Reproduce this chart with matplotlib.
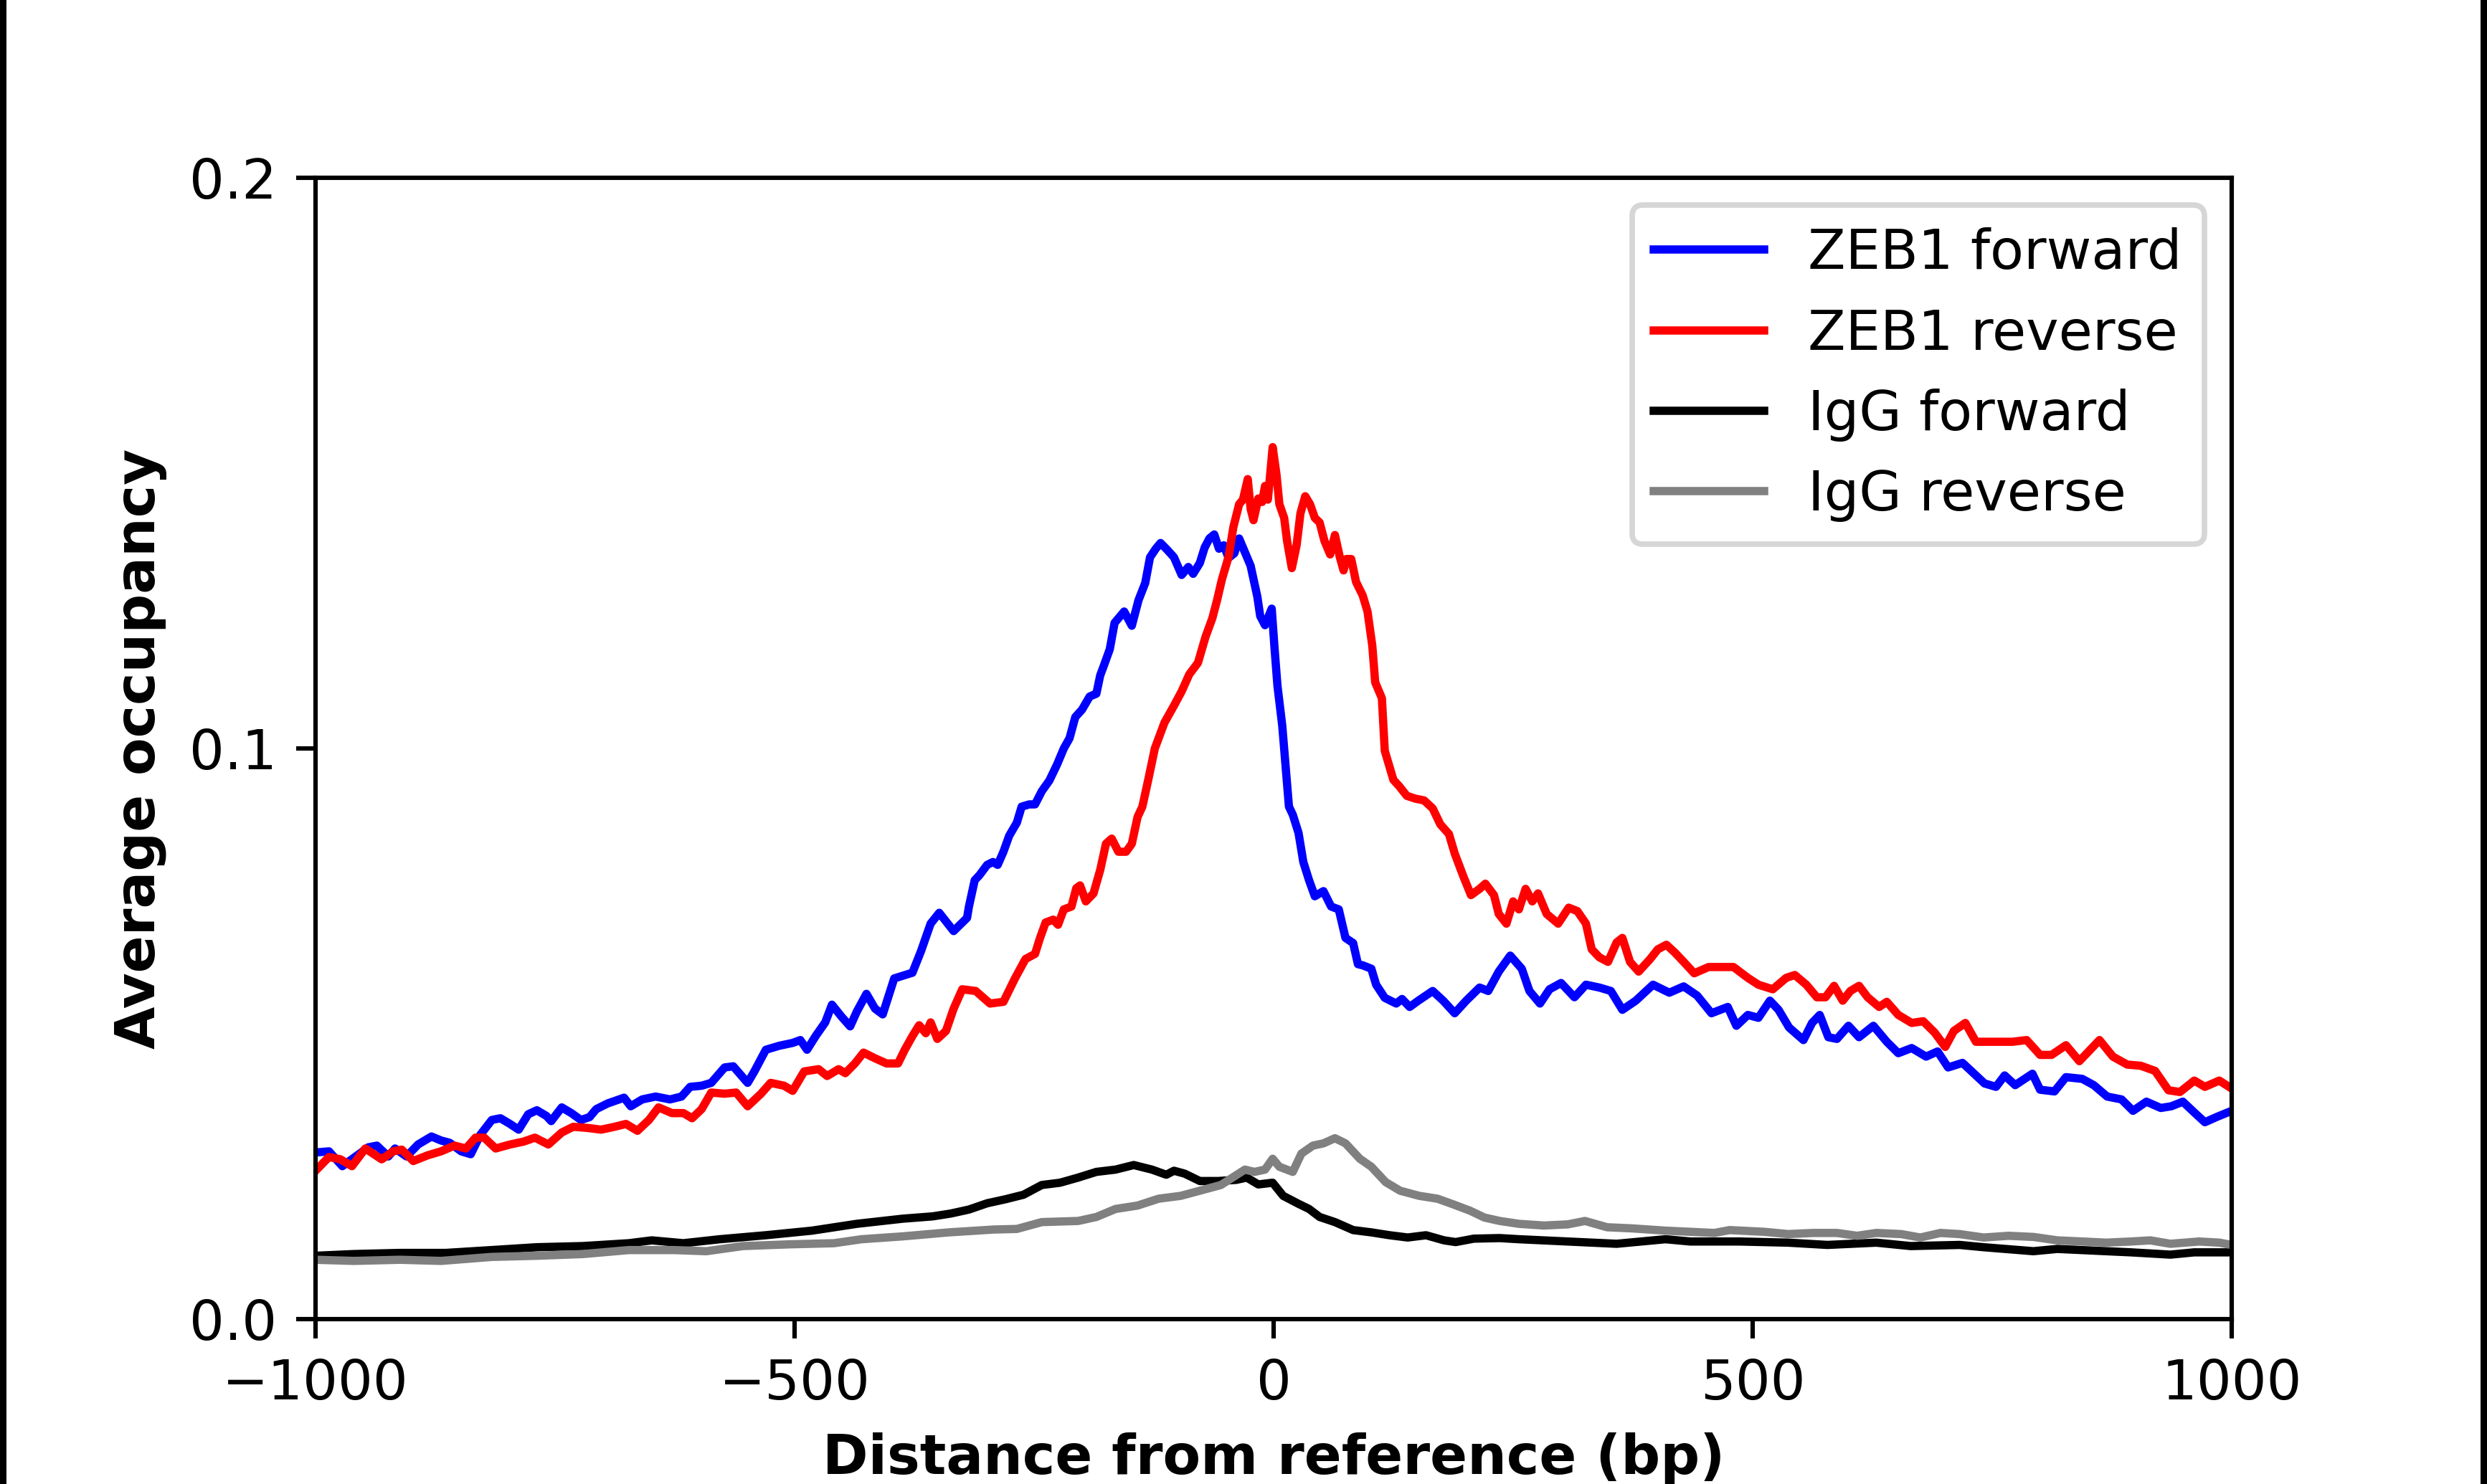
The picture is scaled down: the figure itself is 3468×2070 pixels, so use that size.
import matplotlib
matplotlib.use("Agg")
import matplotlib.pyplot as plt
from matplotlib.patches import Rectangle

# ---------------- data ----------------
zeb1_fwd_x = [-1000, -986, -972, -945, -936, -924, -917, -905, -893, -879, -869, -860, -848, -838, -828, -816,
              -807, -797, -788, -778, -769, -759, -754, -743, -733, -723, -714, -707, -695, -678, -671, -659,
              -645, -630, -618, -609, -597, -587, -573, -564, -549, -542, -530, -516, -502, -494, -487, -478,
              -468, -461, -451, -442, -435, -425, -416, -408, -396, -377, -368, -358, -349, -334, -320,
              -318, -312, -307, -299, -293, -288, -282, -276, -268, -263, -255, -249, -242, -234, -226, -219,
              -213, -207, -200, -192, -185, -181, -177, -171,
              -166, -156, -148, -141, -134, -129, -123, -118, -111, -104, -96, -89, -84, -77, -72, -67, -62,
              -57, -52, -47, -41, -36, -29, -24, -17, -14, -9, -2, 1, 4, 9,
              16, 20, 26, 31, 37, 43, 52, 60, 68, 75, 83, 88,
              93, 102, 107, 116, 128, 134, 142, 151, 166, 177, 189, 201, 215, 224, 235, 247, 259, 267, 278,
              288, 300, 314, 326, 340, 352, 364, 378, 396, 413, 428, 442, 457, 474, 483, 495, 506, 518, 527,
              538, 553, 562, 570, 579, 588, 600, 611, 626, 640, 652, 666, 681, 693, 704, 719, 728, 742, 754,
              763, 774, 792, 800, 815, 827, 844, 856, 870, 885, 897, 911, 926, 937, 949, 961, 972, 984, 1000]
zeb1_fwd_y = [0.0292, 0.0294, 0.0268, 0.0301, 0.0304, 0.0285, 0.0299, 0.0285, 0.0306, 0.0320, 0.0313, 0.0309,
              0.0294, 0.0289, 0.0323, 0.0349, 0.0352, 0.0342, 0.0332, 0.0359, 0.0366, 0.0356, 0.0347, 0.0371,
              0.0361, 0.0349, 0.0354, 0.0368, 0.0378, 0.0388, 0.0373, 0.0385, 0.0390, 0.0385, 0.0390, 0.0407,
              0.0409, 0.0414, 0.0441, 0.0443, 0.0414, 0.0434, 0.0472, 0.0479, 0.0484, 0.0489, 0.0472, 0.0496,
              0.0520, 0.0551, 0.0530, 0.0513, 0.0539, 0.0570, 0.0544, 0.0534, 0.0597, 0.0607, 0.0645, 0.0693,
              0.0712, 0.0680, 0.0703,
              0.0723, 0.0769, 0.0778, 0.0796, 0.0801, 0.0796, 0.0819, 0.0847, 0.0870, 0.0898, 0.0902, 0.0902,
              0.0925, 0.0944, 0.0972, 0.1000, 0.1018, 0.1055, 0.1068, 0.1091, 0.1096, 0.1128, 0.1146, 0.1174,
              0.1220, 0.1240, 0.1215, 0.1260, 0.1290, 0.1335, 0.1350, 0.1360, 0.1348, 0.1335, 0.1304, 0.1318,
              0.1306, 0.1325, 0.1352, 0.1368, 0.1375, 0.1350, 0.1356, 0.1334, 0.1342, 0.1368, 0.1340, 0.1320,
              0.1266, 0.1232, 0.1216, 0.1245, 0.1175, 0.1110, 0.1040,
              0.0898, 0.0884, 0.0852, 0.0801, 0.0769, 0.0741, 0.0750, 0.0723, 0.0718, 0.0668, 0.0659, 0.0622,
              0.0620, 0.0614, 0.0586, 0.0563, 0.0553, 0.0561, 0.0547, 0.0558, 0.0575, 0.0558, 0.0536, 0.0558,
              0.0581, 0.0575, 0.0609, 0.0637, 0.0614, 0.0575, 0.0553, 0.0578, 0.0589, 0.0564, 0.0586, 0.0581,
              0.0575, 0.0542, 0.0558, 0.0586, 0.0572, 0.0583, 0.0567, 0.0536, 0.0547, 0.0514, 0.0533, 0.0528,
              0.0558, 0.0542, 0.0511, 0.0489, 0.0519, 0.0533, 0.0494, 0.0491, 0.0514, 0.0494, 0.0514, 0.0486,
              0.0466, 0.0475, 0.0460, 0.0469, 0.0441, 0.0449, 0.0435, 0.0413, 0.0407, 0.0427, 0.0410, 0.0430,
              0.0402, 0.0399, 0.0424, 0.0421, 0.0410, 0.0390, 0.0385, 0.0365, 0.0381, 0.0370, 0.0373, 0.0381,
              0.0362, 0.0345, 0.0354, 0.0365]

zeb1_rev_x = [-1000, -986, -974, -962, -948, -931, -919, -910, -898, -883, -869, -855, -843, -833, -824, -812,
              -797, -783, -771, -757, -743, -731, -716, -702, -688, -676, -664, -652, -642, -628, -616, -607,
              -597, -587, -573, -561, -549, -535, -525, -511, -502, -490, -475, -466, -454, -447, -437, -428,
              -416, -404, -392, -385, -377, -370, -363, -358, -351, -342, -334, -325, -311, -296, -282, -270,
              -259,
              -249, -244, -238, -230, -225, -219, -211, -206, -202, -196, -188, -181, -175, -169, -162, -154,
              -148, -142, -137, -131,
              -124, -114, -104, -96, -88, -79, -71, -64, -59, -54, -47, -42, -36, -32, -27, -24, -21, -16,
              -12, -9, -6, -1, 3, 6, 11, 14, 19, 24, 28, 33, 38, 43, 48, 53, 59, 64, 69, 73, 76, 81, 86, 93,
              98, 103, 106, 113,
              116, 125, 131, 139, 148, 157, 166, 174, 183, 189, 198, 206, 215, 221, 230, 235, 243, 250, 256,
              263, 270, 276, 285, 297, 308, 317, 326, 332, 340, 349, 358, 364, 372, 381, 393, 401, 410, 419,
              428, 439, 454, 468, 480, 495, 506, 521, 535, 544, 556, 567, 576, 585, 594, 602, 611, 620, 632,
              640, 652, 666, 678, 690, 701, 710, 722, 733, 748, 757, 771, 786, 800, 812, 827, 841, 862, 876,
              891, 905, 920, 934, 946, 961, 972, 987, 1000]
zeb1_rev_y = [0.0260, 0.0284, 0.0280, 0.0268, 0.0299, 0.0280, 0.0294, 0.0297, 0.0277, 0.0287, 0.0294, 0.0304,
              0.0299, 0.0318, 0.0318, 0.0299, 0.0306, 0.0311, 0.0318, 0.0306, 0.0327, 0.0337, 0.0335, 0.0332,
              0.0337, 0.0342, 0.0330, 0.0349, 0.0371, 0.0361, 0.0361, 0.0352, 0.0368, 0.0397, 0.0395, 0.0397,
              0.0373, 0.0395, 0.0414, 0.0409, 0.0400, 0.0434, 0.0438, 0.0426, 0.0438, 0.0431, 0.0448, 0.0467,
              0.0457, 0.0448, 0.0448, 0.0472, 0.0496, 0.0515, 0.0501, 0.0520, 0.0491, 0.0505, 0.0544, 0.0578,
              0.0575, 0.0553, 0.0556, 0.0597, 0.0631,
              0.0640, 0.0667, 0.0695, 0.0700, 0.0691, 0.0718, 0.0723, 0.0755, 0.0760, 0.0732, 0.0746, 0.0787,
              0.0833, 0.0842, 0.0819, 0.0819, 0.0833, 0.0880, 0.0898, 0.0944,
              0.1000, 0.1045, 0.1075, 0.1100, 0.1130, 0.1150, 0.1196, 0.1228, 0.1260, 0.1296, 0.1336, 0.1388,
              0.1428, 0.1436, 0.1472, 0.1420, 0.1400, 0.1438, 0.1432, 0.1460, 0.1436, 0.1528, 0.1480, 0.1428,
              0.1404, 0.1364, 0.1316, 0.1356, 0.1412, 0.1442, 0.1428, 0.1404, 0.1396, 0.1364, 0.1340, 0.1374,
              0.1336, 0.1312, 0.1332, 0.1332, 0.1292, 0.1268, 0.1240, 0.1180, 0.1116, 0.1088,
              0.0996, 0.0945, 0.0934, 0.0917, 0.0912, 0.0909, 0.0895, 0.0867, 0.0850, 0.0816, 0.0776, 0.0743,
              0.0754, 0.0763, 0.0743, 0.0710, 0.0693, 0.0732, 0.0718, 0.0754, 0.0732, 0.0746, 0.0710, 0.0693,
              0.0721, 0.0715, 0.0693, 0.0648, 0.0634, 0.0626, 0.0660, 0.0668, 0.0626, 0.0609, 0.0631, 0.0648,
              0.0656, 0.0642, 0.0626, 0.0606, 0.0617, 0.0617, 0.0617, 0.0598, 0.0586, 0.0578, 0.0598, 0.0603,
              0.0586, 0.0564, 0.0564, 0.0584, 0.0558, 0.0575, 0.0584, 0.0564, 0.0547, 0.0556, 0.0533, 0.0519,
              0.0522, 0.0502, 0.0477, 0.0505, 0.0519, 0.0486, 0.0486, 0.0486, 0.0486, 0.0489, 0.0463, 0.0463,
              0.0480, 0.0452, 0.0489, 0.0460, 0.0446, 0.0444, 0.0435, 0.0401, 0.0398, 0.0418, 0.0407, 0.0418,
              0.0404]

igg_fwd_x = [-1000, -960, -912, -864, -816, -769, -721, -673, -649, -616, -578, -530, -482, -435, -387,
             -356, -337, -318, -299, -280, -261, -242, -223, -204, -185, -165, -146, -127, -112, -104, -93,
             -77, -58, -39, -28, -16, -1, 10, 26, 37, 48, 64, 83, 102, 121, 140, 159, 178, 190, 209,
             236, 256, 307, 358, 409, 435, 486, 537, 578, 629, 665, 716, 741, 793, 818, 869, 895, 936, 961,
             1000]
igg_fwd_y = [0.0111, 0.0114, 0.0116, 0.0116, 0.0121, 0.0126, 0.0128, 0.0133, 0.0138, 0.0133, 0.0140, 0.0147,
             0.0155, 0.0167, 0.0176,
             0.0180, 0.0185, 0.0192, 0.0203, 0.0210, 0.0218, 0.0235, 0.0239, 0.0248, 0.0258, 0.0262, 0.0270,
             0.0262, 0.0253, 0.0260, 0.0255, 0.0242, 0.0242, 0.0244, 0.0248, 0.0236, 0.0239, 0.0216, 0.0202,
             0.0193, 0.0179, 0.0170, 0.0156, 0.0152, 0.0147, 0.0143, 0.0147, 0.0138, 0.0135, 0.0141,
             0.0142, 0.0140, 0.0136, 0.0132, 0.0140, 0.0136, 0.0136, 0.0134, 0.0130, 0.0134, 0.0128, 0.0130,
             0.0126, 0.0119, 0.0123, 0.0119, 0.0117, 0.0113, 0.0117, 0.0117]

igg_rev_x = [-1000, -960, -912, -869, -816, -769, -721, -673, -626, -592, -554, -506, -459, -430, -387, -339,
             -292,
             -268, -242, -204, -185, -165, -142, -120, -97, -77, -55, -43, -30, -20, -9, -1, 6, 20, 29, 41,
             52, 64, 75, 90, 102, 117, 132, 152, 171, 186, 205,
             220, 236, 256, 282, 307, 325, 348, 374, 409, 435, 460, 476, 512, 537, 563, 588, 609, 629, 655,
             675, 696, 716, 741, 767, 793, 818, 844, 869, 895, 915, 936, 966, 987, 1000]
igg_rev_y = [0.0104, 0.0102, 0.0104, 0.0102, 0.0109, 0.0111, 0.0114, 0.0121, 0.0121, 0.0119, 0.0128, 0.0131,
             0.0133, 0.0140, 0.0145, 0.0152, 0.0157,
             0.0158, 0.0170, 0.0172, 0.0179, 0.0193, 0.0199, 0.0211, 0.0216, 0.0225, 0.0235, 0.0248, 0.0262,
             0.0258, 0.0262, 0.0281, 0.0267, 0.0258, 0.0290, 0.0304, 0.0308, 0.0317, 0.0308, 0.0281, 0.0267,
             0.0240, 0.0225, 0.0216, 0.0211, 0.0202, 0.0190,
             0.0178, 0.0172, 0.0167, 0.0164, 0.0166, 0.0172, 0.0161, 0.0159, 0.0155, 0.0153, 0.0151, 0.0156,
             0.0153, 0.0149, 0.0151, 0.0151, 0.0146, 0.0151, 0.0149, 0.0143, 0.0151, 0.0149, 0.0143, 0.0146,
             0.0144, 0.0138, 0.0136, 0.0134, 0.0136, 0.0138, 0.0132, 0.0136, 0.0134, 0.0130]

series_labels = ["ZEB1 forward", "ZEB1 reverse", "IgG forward", "IgG reverse"]
series_colors = ["blue", "red", "black", "grey"]
x_ticks = [-1000, -500, 0, 500, 1000]
y_ticks = [0.0, 0.1, 0.2]
y_tick_labels = ["0.0", "0.1", "0.2"]

# ---------------- figure ----------------
W, H, DPI = 3468, 2070, 553
fig = plt.figure(figsize=(W / DPI, H / DPI), dpi=DPI)
ax = fig.add_axes([440 / W, 1 - 1840 / H, (3112 - 440) / W, (1840 - 248) / H])

xs = [zeb1_fwd_x, zeb1_rev_x, igg_fwd_x, igg_rev_x]
ys = [zeb1_fwd_y, zeb1_rev_y, igg_fwd_y, igg_rev_y]
for x, y, lab, col in zip(xs, ys, series_labels, series_colors):
    ax.plot(x, y, color=col, lw=1.5, label=lab)

ax.set_xlim(-1000, 1000)
ax.set_ylim(0, 0.2)
ax.set_xticks(x_ticks)
ax.set_yticks(y_ticks)
ax.set_yticklabels(y_tick_labels)
ax.set_xlabel("Distance from reference (bp)", fontweight="bold")
ax.set_ylabel("Average occupancy", fontweight="bold")
ax.legend(loc="upper right")

# thin black bars at the left and right image edges
fig.patches.append(Rectangle((0, 0), 9 / W, 1, transform=fig.transFigure,
                             facecolor="black", edgecolor="none", zorder=10))
fig.patches.append(Rectangle((1 - 9 / W, 0), 9 / W, 1, transform=fig.transFigure,
                             facecolor="black", edgecolor="none", zorder=10))

fig.savefig("out.png", dpi=DPI)
